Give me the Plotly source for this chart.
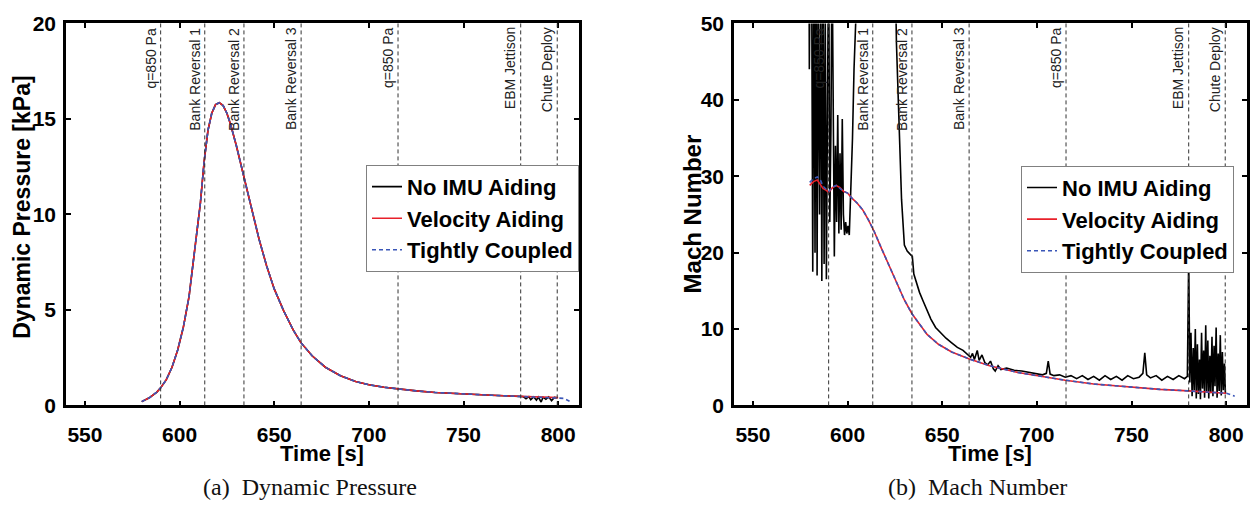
import plotly.graph_objects as go

# ---------------- data ----------------
events = [590.0, 613.3, 634.0, 664.2, 715.4, 780.2, 799.5]
event_labels = ["q=850 Pa", "Bank Reversal 1", "Bank Reversal 2", "Bank Reversal 3",
                "q=850 Pa", "EBM Jettison", "Chute Deploy"]

# (a) Dynamic pressure [kPa]
q_t = [580, 584, 588, 590, 593, 596, 599, 602, 605, 608, 611, 613, 615, 617, 619, 621,
       623, 625, 627, 630, 634, 638, 642, 646, 650, 655, 660, 664, 670, 677, 685, 693,
       700, 708, 715, 725, 735, 745, 755, 765, 775, 780]
q_vel = [0.2, 0.4, 0.7, 0.92, 1.35, 2.0, 2.9, 4.1, 5.7, 8.0, 10.6, 12.8, 14.4, 15.3, 15.75, 15.85,
         15.7, 15.3, 14.7, 13.6, 12.0, 10.3, 8.7, 7.3, 6.1, 4.95, 3.95, 3.3, 2.6, 2.0, 1.55, 1.25,
         1.08, 0.95, 0.86, 0.76, 0.68, 0.62, 0.57, 0.53, 0.49, 0.47]
q_vel_end_t = [785, 790, 795, 800]
q_vel_end = [0.46, 0.44, 0.43, 0.41]
q_tc_end_t = [785, 790, 795, 800, 803, 806]
q_tc_end = [0.46, 0.44, 0.43, 0.41, 0.37, 0.22]
q_noimu_end_t = [781.5, 783, 784.5, 785.5, 787, 788.5, 789.5, 791, 792, 793.5, 795, 796.5, 798, 799.5]
q_noimu_end = [0.46, 0.35, 0.46, 0.3, 0.45, 0.28, 0.44, 0.18, 0.43, 0.32, 0.45, 0.25, 0.42, 0.40]

# (b) Mach number
m_t = [580, 582, 584, 585.5, 587, 588.5, 590, 592, 594, 596, 598, 600, 602, 605, 608, 611,
       614, 618, 622, 626, 630, 634, 638, 642, 648, 655, 664, 675, 690, 700, 715, 730,
       750, 765, 780, 790, 800]
m_vel = [28.8, 29.3, 29.5, 29.0, 28.4, 28.2, 27.9, 28.5, 28.8, 28.5, 28.0, 27.8, 27.2, 26.5, 25.6, 24.3,
         22.8, 20.5, 18.2, 15.9, 13.8, 12.0, 10.6, 9.3, 8.0, 7.0, 6.1, 5.2, 4.3, 3.9, 3.3, 2.8,
         2.4, 2.1, 1.9, 1.75, 1.6]
m_tc = [29.2, 29.7, 29.9, 29.6, 28.7, 28.3, 28.0, 28.6, 28.8, 28.4, 28.0, 27.8, 27.2, 26.5, 25.6, 24.3,
        22.8, 20.5, 18.2, 15.9, 13.8, 12.0, 10.6, 9.3, 8.0, 7.0, 6.1, 5.2, 4.3, 3.9, 3.3, 2.8,
        2.4, 2.1, 1.9, 1.75, 1.6]
m_tc_end_t = [802.5, 804.5]
m_tc_end = [1.4, 1.2]

m_noimu_t = [579.6, 579.8, 580.3, 581.0, 581.6, 582.2, 582.8, 583.3, 583.9, 584.4, 585.2, 585.8,
             586.4, 587.0, 587.6, 588.2, 588.8, 589.4, 590.0, 590.6, 591.2, 591.8, 592.4, 593.0,
             593.6, 594.2, 594.8, 595.4, 596.0, 596.6, 597.2, 597.8, 598.4, 599.0, 599.6, 600.2,
             600.9, 601.8, 602.6, 603.4, 604.2, 605.0, 615.0, 625.0, 625.8, 627.0, 628.5, 630.0,
             631.5, 633.0, 634.2, 635.0, 636.5, 638.0, 640.0, 642.0, 644.0, 646.5, 649.0, 652.0,
             655.0, 658.0, 661.0, 663.5, 665.0, 666.0, 667.0, 668.5, 669.5, 671.0, 672.5, 674.0,
             675.5, 677.0, 678.0, 679.5, 681.0, 684.0, 688.0, 692.0, 696.0, 700.0, 703.0, 705.0,
             706.0, 707.0, 709.0, 712.0, 715.0, 718.0, 721.0, 724.0, 727.0, 730.0, 733.0, 736.0,
             739.0, 742.0, 745.0, 748.0, 751.0, 754.0, 756.0, 757.0, 758.0, 760.0, 763.0, 766.0,
             769.0, 772.0, 775.0, 778.0, 779.5, 780.2, 780.8, 781.4, 782.0, 782.6, 783.1, 783.7,
             784.2, 784.8, 785.3, 785.9, 786.4, 787.0, 787.5, 788.1, 788.6, 789.2, 789.7, 790.3,
             790.8, 791.4, 791.9, 792.5, 793.0, 793.6, 794.1, 794.7, 795.2, 795.8, 796.3, 796.9,
             797.4, 798.0, 798.5, 799.1, 799.6]
m_noimu = [60, 44, 60, 58, 17.5, 62, 20, 60, 17, 55, 25, 60,
           16.3, 58, 18.5, 52, 16.5, 40, 60, 24, 36, 60, 30, 19.5,
           34, 24, 38, 22.5, 33, 23, 37.5, 25, 22.3, 24, 22.5, 23.5,
           22.3, 28, 35, 44, 48, 55, 80, 60, 47.5, 38, 27, 21.0,
           20.2, 19.8, 19.5, 17.2, 16.0, 14.8, 13.6, 12.4, 11.3, 10.2, 9.5, 8.8,
           8.2, 7.6, 7.2, 6.7, 6.3, 6.8, 6.0, 7.2, 5.9, 6.6, 5.6, 5.3,
           5.8, 4.8, 4.5, 5.2, 4.7, 4.9, 4.6, 4.5, 4.3, 4.1, 4.0, 4.2,
           5.8, 4.1, 3.9, 4.0, 3.7, 3.9, 3.5, 3.9, 3.4, 3.8, 3.3, 3.9,
           3.4, 3.8, 3.3, 3.9, 3.5, 3.7, 4.2, 6.9, 4.0, 3.6, 3.9, 3.3,
           3.8, 3.4, 3.9, 3.5, 3.8, 19.5, 3.0, 9.5, 1.2, 7.5, 2.0, 10.0,
           0.9, 8.0, 1.5, 6.0, 0.8, 9.5, 2.2, 7.2, 1.0, 10.5, 1.8, 8.5,
           0.9, 6.5, 1.6, 9.0, 1.2, 7.8, 2.5, 10.2, 1.0, 6.8, 1.9, 9.2,
           1.3, 7.0, 2.0, 5.5, 1.6]

x_ticks = [550, 600, 650, 700, 750, 800]
q_ticks = [0, 5, 10, 15, 20]
m_ticks = [0, 10, 20, 30, 40, 50]

# ---------------- styling ----------------
W, H = 1257, 510
FONT = "Liberation Sans, Arial, sans-serif"
SERIF = "Liberation Serif, Times New Roman, serif"
BLACK = "#000000"
RED = "#e8202a"
BLUE = "#3a56b8"

def px_x(p):
    return p / W

def px_y(p):
    return 1 - p / H

fig = go.Figure()

# (a)
fig.add_trace(go.Scatter(x=q_t + q_noimu_end_t, y=q_vel + q_noimu_end, mode="lines",
                         name="No IMU Aiding", line=dict(color=BLACK, width=1.6),
                         xaxis="x", yaxis="y", legend="legend"))
fig.add_trace(go.Scatter(x=q_t + q_vel_end_t, y=q_vel + q_vel_end, mode="lines",
                         name="Velocity Aiding", line=dict(color=RED, width=1.6),
                         xaxis="x", yaxis="y", legend="legend"))
fig.add_trace(go.Scatter(x=q_t + q_tc_end_t, y=q_vel + q_tc_end, mode="lines",
                         name="Tightly Coupled", line=dict(color=BLUE, width=1.6, dash="4px,3px"),
                         xaxis="x", yaxis="y", legend="legend"))
# (b)
fig.add_trace(go.Scatter(x=m_noimu_t, y=m_noimu, mode="lines",
                         name="No IMU Aiding", line=dict(color=BLACK, width=1.6),
                         xaxis="x2", yaxis="y2", legend="legend2"))
fig.add_trace(go.Scatter(x=m_t, y=m_vel, mode="lines",
                         name="Velocity Aiding", line=dict(color=RED, width=1.6),
                         xaxis="x2", yaxis="y2", legend="legend2"))
fig.add_trace(go.Scatter(x=m_t + m_tc_end_t, y=m_tc + m_tc_end, mode="lines",
                         name="Tightly Coupled", line=dict(color=BLUE, width=1.6, dash="4px,3px"),
                         xaxis="x2", yaxis="y2", legend="legend2"))

shapes = []
annotations = []
for xr, yr in (("x", "y domain"), ("x2", "y2 domain")):
    for ev, lab in zip(events, event_labels):
        shapes.append(dict(type="line", xref=xr, yref=yr, x0=ev, x1=ev, y0=0, y1=1,
                           line=dict(color="#333333", width=1, dash="4px,3px"), layer="above"))
        annotations.append(dict(text=lab, xref=xr, yref=yr, x=ev, y=1, yshift=-3, xshift=-1,
                                textangle=-90, xanchor="right", yanchor="top", showarrow=False,
                                borderpad=0, font=dict(family=FONT, size=14, color="#222222")))

TITLE_FONT = dict(family=FONT, size=22, color=BLACK, weight="bold")
# axis titles and captions
annotations += [
    dict(text="Time [s]", xref="paper", yref="paper", x=px_x(322), y=px_y(462), showarrow=False,
         xanchor="center", yanchor="middle", font=TITLE_FONT),
    dict(text="Time [s]", xref="paper", yref="paper", x=px_x(990), y=px_y(462), showarrow=False,
         xanchor="center", yanchor="middle", font=TITLE_FONT),
    dict(text="Dynamic Pressure [kPa]", xref="paper", yref="paper", x=px_x(22), y=px_y(205),
         textangle=-90, showarrow=False, xanchor="center", yanchor="middle",
         font=dict(family=FONT, size=23, color=BLACK, weight="bold")),
    dict(text="Mach Number", xref="paper", yref="paper", x=px_x(692), y=px_y(212),
         textangle=-90, showarrow=False, xanchor="center", yanchor="middle",
         font=dict(family=FONT, size=24, color=BLACK, weight="bold")),
    dict(text="(a)  Dynamic Pressure", xref="paper", yref="paper", x=px_x(310), y=px_y(497),
         showarrow=False, xanchor="center", yanchor="middle",
         font=dict(family=SERIF, size=24, color="#111111")),
    dict(text="(b)  Mach Number", xref="paper", yref="paper", x=px_x(977), y=px_y(497),
         showarrow=False, xanchor="center", yanchor="middle",
         font=dict(family=SERIF, size=24, color="#111111")),
]

TICK_FONT = dict(family=FONT, size=21, color=BLACK, weight="bold")
common_x = dict(range=[540, 811], tickvals=x_ticks, ticks="inside", ticklen=5, tickwidth=2,
                tickcolor=BLACK, showline=True, linewidth=2.5, linecolor=BLACK, mirror="ticks",
                showgrid=False, zeroline=False, tickfont=TICK_FONT, ticklabelstandoff=9)
common_y = dict(ticks="inside", ticklen=5, tickwidth=2, tickcolor=BLACK, showline=True,
                linewidth=2.5, linecolor=BLACK, mirror="ticks", showgrid=False, zeroline=False,
                tickfont=TICK_FONT, ticklabelstandoff=3)

ydom = [px_y(412), px_y(12)]
LEG_FONT = dict(family=FONT, size=22, color=BLACK, weight="bold")
fig.update_layout(
    width=W, height=H, margin=dict(l=0, r=0, t=0, b=0),
    paper_bgcolor="white", plot_bgcolor="white",
    xaxis=dict(domain=[px_x(66), px_x(579)], anchor="y", **common_x),
    yaxis=dict(domain=ydom, anchor="x", range=[0, 20], tickvals=q_ticks, **common_y),
    xaxis2=dict(domain=[px_x(734), px_x(1247)], anchor="y2", **common_x),
    yaxis2=dict(domain=ydom, anchor="x2", range=[0, 50], tickvals=m_ticks, **common_y),
    legend=dict(x=px_x(366), y=px_y(160), xanchor="left", yanchor="top", bgcolor="white",
                bordercolor="#808080", borderwidth=1, font=LEG_FONT, itemwidth=30,
                tracegroupgap=0),
    legend2=dict(x=px_x(1021), y=px_y(161), xanchor="left", yanchor="top", bgcolor="white",
                 bordercolor="#808080", borderwidth=1, font=LEG_FONT, itemwidth=30,
                 tracegroupgap=0),
    shapes=shapes, annotations=annotations, showlegend=True,
)

fig.write_html("out.html")
